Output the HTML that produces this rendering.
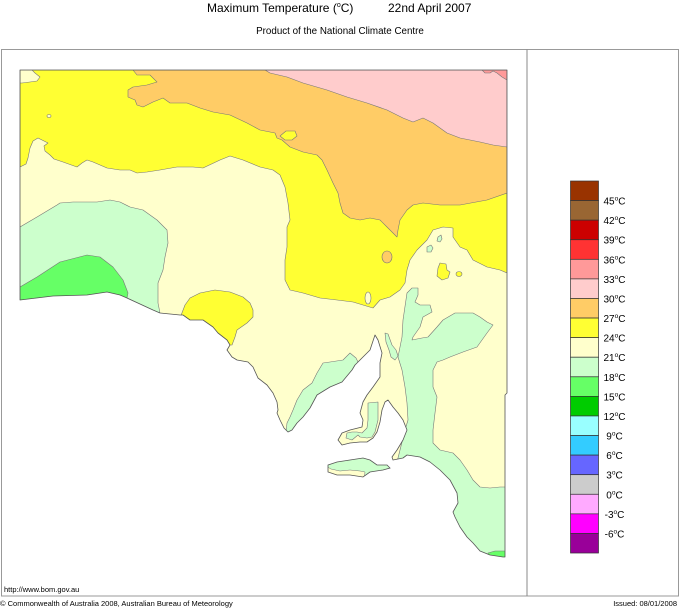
<!DOCTYPE html>
<html><head><meta charset="utf-8"><style>
html,body{margin:0;padding:0;background:#fff;}
svg{display:block;}
text{font-family:"Liberation Sans",Arial,sans-serif;fill:#000;}
</style></head><body>
<svg width="680" height="608" viewBox="0 0 680 608" xmlns="http://www.w3.org/2000/svg">
<defs>
<clipPath id="land">
<polygon points="20,70 507,70 507,393 505,395 505,557 503,557 490,555 480,551 473,543 467,537 460,527 455,517 453,512 458,503 457,493 450,480 440,470 430,462 420,457 407,455 403,458 393,460 392,457 397,450 403,440 407,430 403,420 398,413 393,407 388,400 385,402 382,410 380,422 377,432 373,438 367,442 360,442 350,443 342,445 338,440 342,433 350,430 362,427 363,420 360,413 363,402 367,395 373,387 380,377 380,363 382,353 378,340 375,335 370,350 362,358 355,365 352,370 342,382 330,387 317,395 310,408 303,417 297,423 292,430 288,432 284,428 280,420 277,413 278,410 277,402 273,393 267,385 258,378 253,367 248,362 237,360 232,357 227,350 230,345 227,340 218,333 213,327 203,320 190,320 183,315 180,315 160,313 153,310 127,298 120,295 107,292 87,295 53,296 20,300"/>
</clipPath>
<clipPath id="ki">
<polygon points="328,465 337,462 350,460 363,458 370,460 377,465 387,465 390,468 383,470 370,472 363,477 350,475 337,475 328,472"/>
</clipPath>
</defs>

<!-- title -->
<text x="207" y="12" font-size="12">Maximum Temperature (<tspan font-size="7" dy="-5">o</tspan><tspan dy="5">C)</tspan></text>
<text x="388" y="12" font-size="12">22nd April 2007</text>
<text x="340" y="34" font-size="9.8" text-anchor="middle">Product of the National Climate Centre</text>

<!-- frame -->
<rect x="1.5" y="49.5" width="677" height="546.5" fill="none" stroke="#999" stroke-width="1"/>
<line x1="527" y1="49.5" x2="527" y2="596" stroke="#888" stroke-width="1"/>

<!-- map -->
<g clip-path="url(#land)" stroke="#777" stroke-width="0.6" stroke-linejoin="round">
<rect x="18" y="68" width="492" height="495" fill="#FFFFCC" stroke="none"/>
<polygon fill="#FFFF33" points="20,70 507,70 507,273 500,270 487,267 473,260 467,250 460,247 453,237 453,228 443,227 433,230 427,240 417,250 410,260 407,270 405,283 400,290 390,297 380,300 373,308 363,305 353,302 337,300 320,298 303,293 290,290 285,280 285,260 287,247 287,227 290,220 288,203 285,187 280,175 273,170 260,167 243,160 230,156 220,160 203,168 193,167 177,167 160,170 147,172 137,173 130,170 120,170 107,168 93,162 87,160 82,163 77,167 63,162 54,159 50,155 45,151 44,146 48,143 44,141 38,138 33,141 30,148 28,158 26,164 20,167"/>
<polygon fill="#FFCC66" points="133,70 507,70 507,193 487,200 460,205 440,205 423,203 413,205 407,210 400,220 398,230 397,237 393,233 387,227 380,220 370,218 360,220 350,218 343,213 340,203 338,193 333,183 327,170 322,160 317,155 303,152 290,147 282,140 277,138 275,133 260,130 247,123 230,115 213,112 200,108 187,103 170,103 163,98 153,102 143,107 137,105 135,100 128,97 128,90 133,87 147,85 157,82 150,75 137,75"/>
<polygon fill="#FFFF33" points="280,136 286,131 295,131 297,136 292,140 285,140"/>
<polygon fill="#FFCCCC" points="265,70 507,70 507,147 493,145 480,142 460,138 447,133 433,123 423,118 413,122 403,118 387,110 367,103 347,97 327,90 303,83 287,77 270,73"/>
<polygon fill="#FF9999" points="482,70 485,73 490,73 493,71 497,73 502,77 507,80 507,70"/>
<polygon fill="#FFFFCC" points="20,70 32,70 35,73 40,77 37,81 30,82 22,83 20,83"/>
<ellipse cx="49" cy="116" rx="2" ry="1.5" fill="#FFFFCC"/>
<ellipse cx="387" cy="257" rx="5" ry="6" fill="#FFCC66"/>
<ellipse cx="368" cy="298" rx="3" ry="6" fill="#FFFFCC"/>
<polygon fill="#FFFF33" points="440,263 446,264 447,270 450,272 448,278 442,280 437,276 438,268"/>
<ellipse cx="459" cy="274" rx="3" ry="2.5" fill="#FFFF33"/>
<polygon fill="#CCFFCC" points="427,247 431,245 433,248 431,252 427,252"/>
<polygon fill="#CCFFCC" points="438,237 441,235 442,239 440,242 437,241"/>
<polygon fill="#CCFFCC" points="20,227 37,217 57,205 60,203 73,202 97,202 110,200 120,202 130,207 143,210 157,220 167,230 168,243 165,257 163,270 158,283 158,303 160,313 160,335 20,335"/>
<polygon fill="#66FF66" points="20,287 37,277 60,262 87,255 100,257 113,267 123,280 128,293 127,298 127,325 20,325"/>
<polygon fill="#FFFF33" points="180,318 185,305 190,298 200,293 215,290 230,292 243,297 250,303 253,310 253,317 247,323 237,330 235,337 232,345 200,345 180,335"/>
<polygon fill="#CCFFCC" points="350,353 356,358 362,370 345,392 300,440 286,432 287,423 290,417 293,410 297,400 303,390 312,383 317,373 323,363 330,362 343,360"/>
<polygon fill="#CCFFCC" points="385,333 388,334 392,345 396,350 398,356 395,360 391,357 389,350 386,342"/>
<polygon fill="#CCFFCC" points="368,403 378,402 378,420 375,432 372,437 367,438 360,437 358,435 352,440 346,438 347,433 352,432 357,432 362,433 367,428 368,420"/>
<polygon fill="#CCFFCC" points="407,293 412,288 418,288 418,295 415,302 420,305 430,305 432,312 423,317 420,327 413,337 412,340 422,338 428,337 437,327 443,320 455,313 473,313 480,317 487,322 493,325 487,333 477,347 463,352 450,357 443,360 437,362 433,370 433,387 437,397 435,413 433,430 433,443 440,450 453,453 460,460 467,470 473,480 480,487 490,488 500,487 510,487 510,562 470,562 395,470 405,430 408,420 407,403 405,387 402,370 398,357 402,337 403,320"/>
<polygon fill="#66FF66" points="488,553 495,551 510,551 510,562 490,562"/>
</g>
<polygon points="20,70 507,70 507,393 505,395 505,557 503,557 490,555 480,551 473,543 467,537 460,527 455,517 453,512 458,503 457,493 450,480 440,470 430,462 420,457 407,455 403,458 393,460 392,457 397,450 403,440 407,430 403,420 398,413 393,407 388,400 385,402 382,410 380,422 377,432 373,438 367,442 360,442 350,443 342,445 338,440 342,433 350,430 362,427 363,420 360,413 363,402 367,395 373,387 380,377 380,363 382,353 378,340 375,335 370,350 362,358 355,365 352,370 342,382 330,387 317,395 310,408 303,417 297,423 292,430 288,432 284,428 280,420 277,413 278,410 277,402 273,393 267,385 258,378 253,367 248,362 237,360 232,357 227,350 230,345 227,340 218,333 213,327 203,320 190,320 183,315 180,315 160,313 153,310 127,298 120,295 107,292 87,295 53,296 20,300" fill="none" stroke="#555" stroke-width="0.8" stroke-linejoin="round"/>

<!-- Kangaroo Island -->
<g clip-path="url(#ki)">
<rect x="320" y="455" width="75" height="25" fill="#CCFFCC"/>
<polygon fill="#FFFFCC" stroke="#777" stroke-width="0.5" points="326,466 331,469 340,471 350,470 360,471 365,472 364,480 326,480"/>
</g>
<polygon points="328,465 337,462 350,460 363,458 370,460 377,465 387,465 390,468 383,470 370,472 363,477 350,475 337,475 328,472" fill="none" stroke="#555" stroke-width="0.8"/>

<!-- legend -->
<g stroke="#333" stroke-width="0.7">
<rect x="570.5" y="181.00" width="28" height="19.58" fill="#993300"/>
<rect x="570.5" y="200.58" width="28" height="19.58" fill="#996633"/>
<rect x="570.5" y="220.16" width="28" height="19.58" fill="#CC0000"/>
<rect x="570.5" y="239.74" width="28" height="19.58" fill="#FF3333"/>
<rect x="570.5" y="259.32" width="28" height="19.58" fill="#FF9999"/>
<rect x="570.5" y="278.90" width="28" height="19.58" fill="#FFCCCC"/>
<rect x="570.5" y="298.48" width="28" height="19.58" fill="#FFCC66"/>
<rect x="570.5" y="318.06" width="28" height="19.58" fill="#FFFF33"/>
<rect x="570.5" y="337.64" width="28" height="19.58" fill="#FFFFCC"/>
<rect x="570.5" y="357.22" width="28" height="19.58" fill="#CCFFCC"/>
<rect x="570.5" y="376.80" width="28" height="19.58" fill="#66FF66"/>
<rect x="570.5" y="396.38" width="28" height="19.58" fill="#00CC00"/>
<rect x="570.5" y="415.96" width="28" height="19.58" fill="#99FFFF"/>
<rect x="570.5" y="435.54" width="28" height="19.58" fill="#33CCFF"/>
<rect x="570.5" y="455.12" width="28" height="19.58" fill="#6666FF"/>
<rect x="570.5" y="474.70" width="28" height="19.58" fill="#CCCCCC"/>
<rect x="570.5" y="494.28" width="28" height="19.58" fill="#FFAAFF"/>
<rect x="570.5" y="513.86" width="28" height="19.58" fill="#FF00FF"/>
<rect x="570.5" y="533.44" width="28" height="19.58" fill="#990099"/>
</g>
<g font-size="10" text-anchor="middle">
<text x="614.5" y="204.6">45<tspan font-size="6.5" dy="-4">o</tspan><tspan dy="4">C</tspan></text>
<text x="614.5" y="224.2">42<tspan font-size="6.5" dy="-4">o</tspan><tspan dy="4">C</tspan></text>
<text x="614.5" y="243.7">39<tspan font-size="6.5" dy="-4">o</tspan><tspan dy="4">C</tspan></text>
<text x="614.5" y="263.3">36<tspan font-size="6.5" dy="-4">o</tspan><tspan dy="4">C</tspan></text>
<text x="614.5" y="282.9">33<tspan font-size="6.5" dy="-4">o</tspan><tspan dy="4">C</tspan></text>
<text x="614.5" y="302.5">30<tspan font-size="6.5" dy="-4">o</tspan><tspan dy="4">C</tspan></text>
<text x="614.5" y="322.1">27<tspan font-size="6.5" dy="-4">o</tspan><tspan dy="4">C</tspan></text>
<text x="614.5" y="341.6">24<tspan font-size="6.5" dy="-4">o</tspan><tspan dy="4">C</tspan></text>
<text x="614.5" y="361.2">21<tspan font-size="6.5" dy="-4">o</tspan><tspan dy="4">C</tspan></text>
<text x="614.5" y="380.8">18<tspan font-size="6.5" dy="-4">o</tspan><tspan dy="4">C</tspan></text>
<text x="614.5" y="400.4">15<tspan font-size="6.5" dy="-4">o</tspan><tspan dy="4">C</tspan></text>
<text x="614.5" y="420.0">12<tspan font-size="6.5" dy="-4">o</tspan><tspan dy="4">C</tspan></text>
<text x="614.5" y="439.5">9<tspan font-size="6.5" dy="-4">o</tspan><tspan dy="4">C</tspan></text>
<text x="614.5" y="459.1">6<tspan font-size="6.5" dy="-4">o</tspan><tspan dy="4">C</tspan></text>
<text x="614.5" y="478.7">3<tspan font-size="6.5" dy="-4">o</tspan><tspan dy="4">C</tspan></text>
<text x="614.5" y="498.3">0<tspan font-size="6.5" dy="-4">o</tspan><tspan dy="4">C</tspan></text>
<text x="614.5" y="517.9">-3<tspan font-size="6.5" dy="-4">o</tspan><tspan dy="4">C</tspan></text>
<text x="614.5" y="537.4">-6<tspan font-size="6.5" dy="-4">o</tspan><tspan dy="4">C</tspan></text>
</g>

<!-- footer -->
<text x="4" y="592" font-size="7.5">http://www.bom.gov.au</text>
<text x="0" y="606" font-size="7.5">© Commonwealth of Australia 2008, Australian Bureau of Meteorology</text>
<text x="677" y="606" font-size="7.5" text-anchor="end">Issued: 08/01/2008</text>
</svg>
</body></html>
